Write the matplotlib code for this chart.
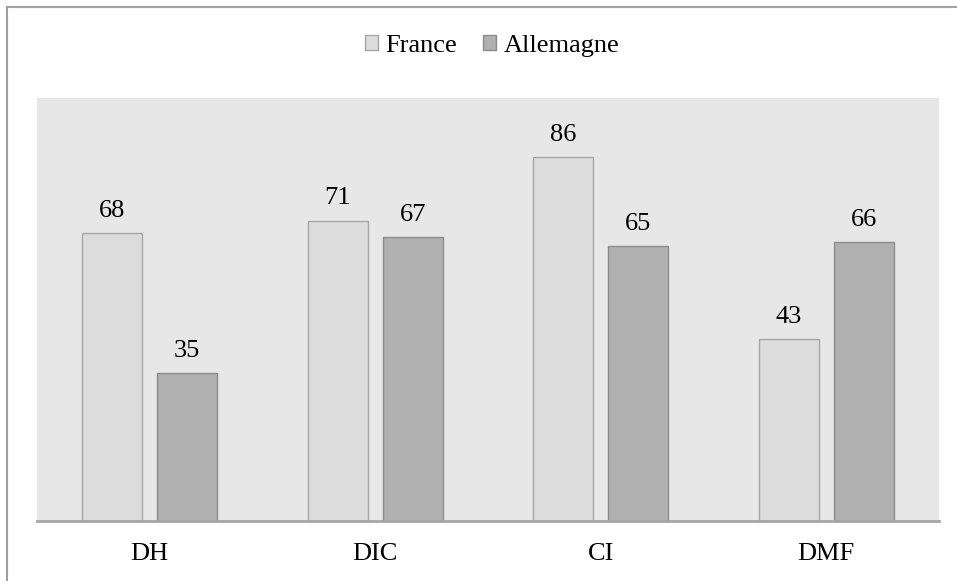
import numpy as np
import matplotlib.pyplot as plt
from matplotlib.patches import Rectangle

plt.rcParams['font.family'] = ['Liberation Serif', 'DejaVu Serif']

# Data
categories = ['DH', 'DIC', 'CI', 'DMF']
france = [68, 71, 86, 43]
allemagne = [35, 67, 65, 66]

fig = plt.figure(figsize=(9.57, 5.81), dpi=100)

# outer border (cropped at right and bottom)
fig.patches.append(Rectangle((7 / 957, -0.1), 1.2, 1 - 7 / 581 + 0.1,
                             transform=fig.transFigure, fill=False,
                             edgecolor='#a0a0a0', linewidth=1.5))

ax = fig.add_axes([37 / 957, (581 - 520.5) / 581, 902 / 957, (520.5 - 98) / 581])
ax.set_facecolor('#e7e7e7')

x = np.arange(len(categories))
w = 0.266
off = 0.166
b1 = ax.bar(x - off, france, w, color='#dcdcdc', edgecolor='#a6a6a6', linewidth=1, label='France')
b2 = ax.bar(x + off, allemagne, w, color='#b0b0b0', edgecolor='#8c8c8c', linewidth=1, label='Allemagne')

for bars in (b1, b2):
    for r in bars:
        ax.annotate(f'{int(r.get_height())}', (r.get_x() + r.get_width() / 2, r.get_height()),
                    xytext=(0, 8), textcoords='offset points', ha='center', va='bottom',
                    fontsize=19)

ax.set_xlim(-0.5, 3.5)
ax.set_ylim(0, 100)
ax.set_yticks([])
ax.set_xticks(x)
ax.set_xticklabels(categories, fontsize=19)
ax.tick_params(axis='x', length=0, pad=16)
for s in ['top', 'left', 'right']:
    ax.spines[s].set_visible(False)
ax.spines['bottom'].set_color('#a6a6a6')
ax.spines['bottom'].set_linewidth(2)

fig.legend(loc='center', bbox_to_anchor=(492 / 957, 1 - 46 / 581), ncol=2, frameon=False,
           fontsize=19, handlelength=0.5, handleheight=0.5, handletextpad=0.27,
           columnspacing=1.0)

fig.savefig('out.png', dpi=100)
